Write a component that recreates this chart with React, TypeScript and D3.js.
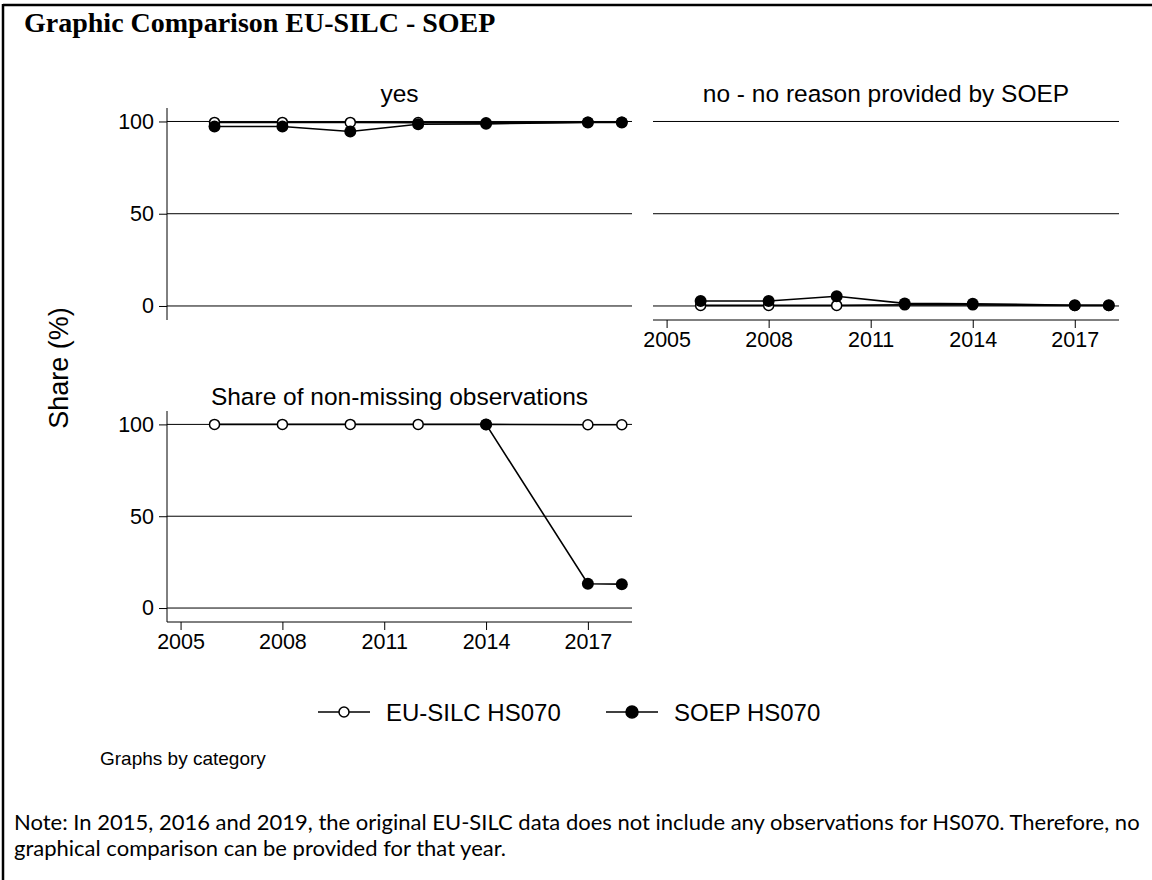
import React, { useEffect, useRef } from 'react';
import * as d3 from 'd3';

// Years observed in the data
const years = [2006, 2008, 2010, 2012, 2014, 2017, 2018];
const xTicks = [2005, 2008, 2011, 2014, 2017];
const yTicks = [0, 50, 100];

// Panel: yes
const yesEuSilc = [99.5, 99.5, 99.5, 99.4, 99.3, 99.6, 99.6];
const yesSoep = [97.3, 97.3, 94.6, 98.5, 98.7, 99.5, 99.5];

// Panel: no - no reason provided by SOEP
const noEuSilc = [0.3, 0.3, 0.3, 0.6, 0.6, 0.3, 0.3];
const noSoep = [2.7, 2.7, 5.3, 1.4, 1.2, 0.4, 0.4];

// Panel: share of non-missing observations
const shareEuSilc = [100, 100, 100, 100, 100, 99.8, 99.8];
const shareYears = [2014, 2017, 2018];
const shareSoep = [100, 13.2, 13.0];

const panelNames = ['yes', 'no - no reason provided by SOEP', 'Share of non-missing observations'];
const seriesNames = ['EU-SILC HS070', 'SOEP HS070'];

const W = 1152;
const H = 880;
const AX = 'Arial, "Liberation Sans", sans-serif';

const App: React.FC = () => {
  const svgRef = useRef<SVGSVGElement>(null);

  useEffect(() => {
    if (!svgRef.current) return;
    const svg = d3.select(svgRef.current);
    svg.selectAll('*').remove();

    svg.append('rect').attr('width', W).attr('height', H).attr('fill', '#fff');

    // frame (top and left only visible)
    svg.append('line').attr('x1', 3).attr('x2', W).attr('y1', 5).attr('y2', 5)
      .attr('stroke', '#000').attr('stroke-width', 2.5);
    svg.append('line').attr('x1', 3).attr('x2', 3).attr('y1', 4).attr('y2', H)
      .attr('stroke', '#000').attr('stroke-width', 2.5);

    svg.append('text')
      .attr('x', 24).attr('y', 32)
      .attr('font-family', '"Liberation Serif", "Times New Roman", serif')
      .attr('font-weight', 'bold').attr('font-size', 28)
      .text('Graphic Comparison EU-SILC - SOEP');

    const panels = [
      { name: panelNames[0], left: 167, right: 632, top: 108, bottom: 320, yAxis: true, xAxis: false,
        eu: years.map((y, i) => ({ x: y, v: yesEuSilc[i] })), so: years.map((y, i) => ({ x: y, v: yesSoep[i] })) },
      { name: panelNames[1], left: 653, right: 1119, top: 108, bottom: 320, yAxis: false, xAxis: true,
        eu: years.map((y, i) => ({ x: y, v: noEuSilc[i] })), so: years.map((y, i) => ({ x: y, v: noSoep[i] })) },
      { name: panelNames[2], left: 167, right: 632, top: 411, bottom: 622, yAxis: true, xAxis: true,
        eu: years.map((y, i) => ({ x: y, v: shareEuSilc[i] })), so: shareYears.map((y, i) => ({ x: y, v: shareSoep[i] })) },
    ];

    panels.forEach(p => {
      const x = d3.scaleLinear().domain([2004.6, 2018.3]).range([p.left, p.right]);
      const y = d3.scaleLinear().domain([-7.6, 107.3]).range([p.bottom, p.top]);
      const g = svg.append('g');

      // strip title
      g.append('text')
        .attr('x', (p.left + p.right) / 2).attr('y', p.top - 6)
        .attr('text-anchor', 'middle')
        .attr('font-family', AX).attr('font-size', 24.5)
        .text(p.name);

      // gridlines
      g.selectAll('.grid').data(yTicks).enter().append('line')
        .attr('x1', p.left).attr('x2', p.right)
        .attr('y1', d => y(d)).attr('y2', d => y(d))
        .attr('stroke', '#000').attr('stroke-width', 1);

      if (p.yAxis) {
        const ya = g.append('g').attr('transform', `translate(${p.left},0)`)
          .call(d3.axisLeft(y).tickValues(yTicks).tickSize(8).tickPadding(5));
        ya.select('.domain').attr('d', `M0,${p.top}V${p.bottom}`).attr('stroke', '#000');
        ya.selectAll('text').attr('font-family', AX).attr('font-size', 21.5).attr('fill', '#000');
      }
      if (p.xAxis) {
        const xa = g.append('g').attr('transform', `translate(0,${p.bottom})`)
          .call(d3.axisBottom(x).tickValues(xTicks).tickFormat(d3.format('d')).tickSize(8).tickPadding(4));
        xa.select('.domain').attr('d', `M${p.left},0H${p.right}`).attr('stroke', '#000');
        xa.selectAll('text').attr('font-family', AX).attr('font-size', 21.5).attr('fill', '#000');
      }

      const line = d3.line<{ x: number; v: number }>().x(d => x(d.x)).y(d => y(d.v));

      g.append('path').datum(p.eu).attr('d', line).attr('fill', 'none')
        .attr('stroke', '#000').attr('stroke-width', 1.6);
      g.append('path').datum(p.so).attr('d', line).attr('fill', 'none')
        .attr('stroke', '#000').attr('stroke-width', 1.6);

      g.selectAll('.eu').data(p.eu).enter().append('circle')
        .attr('cx', d => x(d.x)).attr('cy', d => y(d.v)).attr('r', 5)
        .attr('fill', '#fff').attr('stroke', '#000').attr('stroke-width', 1.5);
      g.selectAll('.so').data(p.so).enter().append('circle')
        .attr('cx', d => x(d.x)).attr('cy', d => y(d.v)).attr('r', 6)
        .attr('fill', '#000');
    });

    // y title
    svg.append('text')
      .attr('transform', 'translate(68,368) rotate(-90)')
      .attr('text-anchor', 'middle')
      .attr('font-family', AX).attr('font-size', 27)
      .text('Share (%)');

    // legend
    const legend = [
      { name: seriesNames[0], x: 318, filled: false },
      { name: seriesNames[1], x: 606, filled: true },
    ];
    legend.forEach(l => {
      const lg = svg.append('g').attr('transform', `translate(${l.x},712)`);
      lg.append('line').attr('x1', 0).attr('x2', 52).attr('y1', 0).attr('y2', 0)
        .attr('stroke', '#000').attr('stroke-width', 1.6);
      lg.append('circle').attr('cx', 26).attr('cy', 0).attr('r', l.filled ? 6 : 5)
        .attr('fill', l.filled ? '#000' : '#fff').attr('stroke', '#000').attr('stroke-width', 1.5);
      lg.append('text').attr('x', 68).attr('y', 8.5)
        .attr('font-family', AX).attr('font-size', 24)
        .text(l.name);
    });

    svg.append('text')
      .attr('x', 100).attr('y', 765)
      .attr('font-family', AX).attr('font-size', 19)
      .text('Graphs by category');

    const noteLines = [
      'Note: In 2015, 2016 and 2019, the original EU-SILC data does not include any observations for HS070. Therefore, no',
      'graphical comparison can be provided for that year.',
    ];
    svg.selectAll('.note').data(noteLines).enter().append('text')
      .attr('x', 14).attr('y', (d, i) => 830 + i * 26)
      .attr('font-family', 'Lato, "Open Sans", sans-serif').attr('font-size', 22)
      .text(d => d);
  }, []);

  return (
    <div style={{ position: 'absolute', left: 0, top: 0 }}>
      <svg ref={svgRef} width={W} height={H} style={{ display: 'block' }} />
    </div>
  );
};

export default App;
